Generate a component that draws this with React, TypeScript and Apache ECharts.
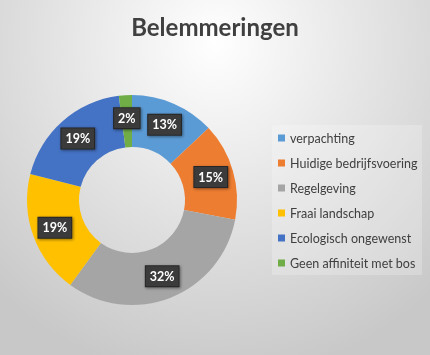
import React, { useEffect, useRef } from "react";
import * as echarts from "echarts";

const categories = [
  "verpachting",
  "Huidige bedrijfsvoering",
  "Regelgeving",
  "Fraai landschap",
  "Ecologisch ongewenst",
  "Geen affiniteit met bos",
];
const percentages = [13, 15, 32, 19, 19, 2];
const colors = ["#5B9BD5", "#ED7D31", "#A5A5A5", "#FFC000", "#4472C4", "#70AD47"];
const titleText = "Belemmeringen";

export default function App() {
  const ref = useRef<HTMLDivElement>(null);
  useEffect(() => {
    document.body.style.margin = "0";
    const chart = echarts.init(ref.current!, undefined, { renderer: "svg" });
    chart.setOption({
      animation: false,
      title: {
        text: titleText,
        left: "center",
        top: 9,
        textStyle: {
          fontFamily: "Lato",
          fontWeight: "bold",
          fontSize: 24,
          color: "#404040",
        },
      },
      graphic: [
        {
          type: "rect",
          shape: { x: 272, y: 125, width: 150, height: 150 },
          style: { fill: "rgba(255,255,255,0.22)", stroke: "none" },
          z: -1,
        },
      ],
      legend: {
        orient: "vertical",
        left: 278,
        top: 131,
        icon: "rect",
        itemWidth: 7,
        itemHeight: 7,
        itemGap: 11,
        padding: 0,
        textStyle: {
          fontFamily: "Lato",
          fontSize: 12.5,
          lineHeight: 14,
          color: "#404040",
        },
        data: categories,
      },
      series: [
        {
          type: "pie",
          center: [132, 200],
          radius: [53, 105],
          startAngle: 90,
          clockwise: true,
          avoidLabelOverlap: false,
          itemStyle: { borderWidth: 0 },
          label: {
            show: true,
            position: "inside",
            formatter: (p: any) => p.value + "%",
            fontFamily: "Lato",
            fontWeight: "bold",
            fontSize: 12.5,
            lineHeight: 14,
            color: "#ffffff",
            backgroundColor: "#3a3a3a",
            borderColor: "#262626",
            borderWidth: 1,
            padding: [3, 4, 3, 4],
            shadowBlur: 3,
            shadowColor: "rgba(0,0,0,0.45)",
            shadowOffsetX: 1,
            shadowOffsetY: 1,
          },
          labelLine: { show: false },
          emphasis: { disabled: true },
          data: categories.map((name, i) => ({
            name,
            value: percentages[i],
            itemStyle: { color: colors[i] },
          })),
        },
      ],
    });
    return () => chart.dispose();
  }, []);
  return (
    <div
      ref={ref}
      style={{
        position: "fixed",
        left: 0,
        top: 0,
        width: 430,
        height: 355,
        background:
          "radial-gradient(ellipse 75% 95% at 50% 12%, #ffffff 0%, #e6e6e6 45%, #c8c8c8 100%)",
      }}
    />
  );
}
